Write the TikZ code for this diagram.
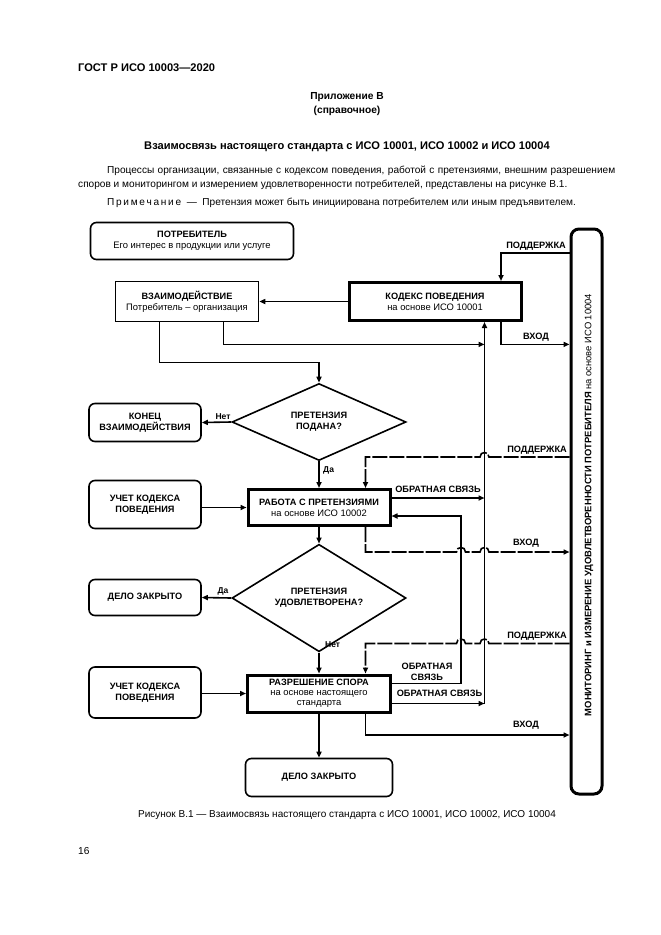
\documentclass[tikz,border=0pt]{standalone}
\usepackage{fontspec}
\setmainfont{Liberation Sans}
\usetikzlibrary{arrows.meta,shapes.geometric}
\newcommand\DgB{\fontsize{9.2}{10.8}\selectfont\bfseries}
\newcommand\DgR{\fontsize{9.4}{10.8}\selectfont\mdseries}
\newcommand\jmpL[2]{-- (#1+4.5,#2) .. controls (#1+4.5,#2-6) and (#1-4.5,#2-6) .. (#1-4.5,#2)}
\newcommand\jmpR[2]{-- (#1-4.5,#2) .. controls (#1-4.5,#2-6) and (#1+4.5,#2-6) .. (#1+4.5,#2)}
\begin{document}
\begin{tikzpicture}[x=1pt,y=-1pt,
  ln/.style={line width=1.6pt},
  dsh/.style={dash pattern=on 15pt off 2pt},
  arr/.style={-{Triangle[length=6pt,width=5pt]}},
  sbox/.style={draw,line width=1.6pt,align=center,inner sep=0pt,font=\DgB},
  rbox/.style={sbox,rounded corners=6pt},
  tbox/.style={draw,line width=3pt,align=center,inner sep=0pt,font=\DgB},
  dia/.style={draw,diamond,line width=1.6pt,align=center,inner sep=0pt,font=\DgB},
  lab/.style={inner sep=0pt,font=\DgB,align=center},
  yn/.style={inner sep=0pt,font=\fontsize{8.5}{9}\selectfont\bfseries},
  txt/.style={inner sep=0pt,font=\fontsize{10.1}{12}\selectfont},
  btxt/.style={inner sep=0pt,font=\fontsize{11.1}{13}\selectfont\bfseries},
]
\useasboundingbox[fill=white] (0,0) rectangle (661,935);

% page text
\node[btxt,anchor=west] (hdr) at (78,68) {ГОСТ Р ИСО 10003—2020};
\node[btxt,font=\fontsize{10.2}{12}\selectfont\bfseries] (app) at (347,97) {Приложение В};
\node[btxt,font=\fontsize{10.2}{12}\selectfont\bfseries] (ref) at (347,111) {(справочное)};
\node[btxt] (ttl) at (347,147) {Взаимосвязь настоящего стандарта с ИСО 10001, ИСО 10002 и ИСО 10004};
\node[txt,anchor=west] (par1) at (107,171) {\makebox[508pt][s]{Процессы организации, связанные с кодексом поведения, работой с претензиями, внешним разрешением}};
\node[txt,anchor=west] (par2) at (78,185) {споров и мониторингом и измерением удовлетворенности потребителей, представлены на рисунке В.1.};
\node[txt,anchor=west] (note) at (107,203) {П\,р\,и\,м\,е\,ч\,а\,н\,и\,е\ \ —\ \ Претензия может быть инициирована потребителем или иным предъявителем.};
\node[txt,font=\fontsize{10}{12}\selectfont] (cap) at (347,815) {Рисунок В.1 — Взаимосвязь настоящего стандарта с ИСО 10001, ИСО 10002, ИСО 10004};
\node[txt,anchor=west] (pg) at (78,851) {16};

% boxes
\node[rbox,minimum width=203pt,minimum height=37pt] (potr) at (192,241) {ПОТРЕБИТЕЛЬ\\{\DgR Его интерес в продукции или услуге}};
\node[sbox,minimum width=143pt,minimum height=40pt] (vzaim) at (187,301.5) {ВЗАИМОДЕЙСТВИЕ\\{\DgR Потребитель – организация}};
\node[tbox,minimum width=172pt,minimum height=38pt] (kodeks) at (435,301.5) {КОДЕКС ПОВЕДЕНИЯ\\{\DgR на основе ИСО 10001}};
\node[dia,minimum width=174pt,minimum height=77pt] (d1) at (319,422) {ПРЕТЕНЗИЯ\\ПОДАНА?};
\node[rbox,minimum width=112pt,minimum height=38pt] (konec) at (145,422.5) {КОНЕЦ\\ВЗАИМОДЕЙСТВИЯ};
\node[tbox,minimum width=142pt,minimum height=36pt] (rabota) at (319,507.5) {РАБОТА С ПРЕТЕНЗИЯМИ\\{\DgR на основе ИСО 10002}};
\node[rbox,minimum width=112pt,minimum height=48pt] (uch1) at (145,504.5) {УЧЕТ КОДЕКСА\\ПОВЕДЕНИЯ};
\node[dia,minimum width=174pt,minimum height=76pt] (d2) at (319,598) {ПРЕТЕНЗИЯ\\УДОВЛЕТВОРЕНА?};
\node[rbox,minimum width=112pt,minimum height=36pt] (delo1) at (145,597.5) {ДЕЛО ЗАКРЫТО};
\node[tbox,minimum width=143pt,minimum height=37pt,font=\fontsize{9.2}{9.9}\selectfont\bfseries] (razr) at (319,693.5) {РАЗРЕШЕНИЕ СПОРА\\{\DgR на основе настоящего}\\{\DgR стандарта}};
\node[rbox,minimum width=112pt,minimum height=51pt] (uch2) at (145,692.5) {УЧЕТ КОДЕКСА\\ПОВЕДЕНИЯ};
\node[rbox,minimum width=147pt,minimum height=38pt] (delo2) at (319,777.5) {ДЕЛО ЗАКРЫТО};
\node[draw,line width=3pt,rounded corners=8pt,minimum width=31pt,minimum height=565pt,inner sep=0pt] (bar) at (586.5,511.5) {};
\node[lab,rotate=90,font=\fontsize{9.4}{10.8}\selectfont\bfseries] (bartxt) at (589,505) {МОНИТОРИНГ и ИЗМЕРЕНИЕ УДОВЛЕТВОРЕННОСТИ ПОТРЕБИТЕЛЯ {\DgR на основе ИСО 10004}};

% helper coordinates
\coordinate (busA) at (484.5,703.5);
\coordinate (busB) at (461,683.5);
\coordinate (j1) at (159.4,362.6);
\coordinate (j2) at (223.6,344.4);
\coordinate (p1) at (501,252.8);
\coordinate (v1) at (501,344.4);
\coordinate (p2) at (365.5,457);
\coordinate (v2) at (365.5,552);
\coordinate (p3) at (365.5,643.5);
\coordinate (v3) at (365.5,735);

% connectors
\draw[ln,arr] (kodeks.west) -- (vzaim.east);
\draw[ln,arr] (vzaim.south -| j1) -- (j1) -| (d1.north);
\draw[ln,arr] (vzaim.south -| j2) |- (busA |- j2);
\draw[ln,arr] (bar.west |- p1) -- (p1) -- (kodeks.north -| p1);
\draw[ln,arr] (kodeks.south -| v1) |- (bar.west |- v1);
\draw[ln,arr] (busA) -- (kodeks.south -| busA);

\draw[ln,arr] (d1.west) -- (konec.east);
\node[yn,anchor=south] (n1) at (223,420) {Нет};
\draw[ln,arr] (d1.south) -- (rabota.north);
\node[yn,anchor=west] (y1) at (323,470) {Да};
\draw[ln,arr] (uch1.east |- rabota.west) -- (rabota.west);

\draw[ln,dsh,arr] (bar.west |- p2) \jmpL{484.5}{457} -- (p2) -- (rabota.north -| p2);
\node[lab,anchor=south east] (lp2) at (567,454.5) {ПОДДЕРЖКА};
\draw[ln,arr] (rabota.east |- 0,498) -- (busA |- 0,498);
\node[lab] (lo1) at (438,489) {ОБРАТНАЯ СВЯЗЬ};
\draw[ln,arr] (razr.east |- busB) -- (busB) |- (rabota.east |- 0,516);
\draw[ln,dsh,arr] (rabota.south -| v2) -- (v2) \jmpR{461}{552} \jmpR{484.5}{552} -- (bar.west |- v2);
\node[lab] (lv2) at (526,543) {ВХОД};

\draw[ln,arr] (rabota.south) -- (d2.north);
\draw[ln,arr] (d2.west) -- (delo1.east);
\node[yn,anchor=south] (y2) at (223,595) {Да};
\draw[ln,arr] (d2.south) -- (razr.north);
\node[yn,anchor=west] (n2) at (325,645) {Нет};
\draw[ln,arr] (uch2.east |- razr.west) -- (razr.west);

\draw[ln,dsh,arr] (bar.west |- p3) \jmpL{484.5}{643.5} \jmpL{461}{643.5} -- (p3) -- (razr.north -| p3);
\node[lab,anchor=south east] (lp3) at (567,641) {ПОДДЕРЖКА};
\node[lab] (lo2) at (427,671.5) {ОБРАТНАЯ\\СВЯЗЬ};
\draw[ln,arr] (razr.east |- busA) -- (busA);
\node[lab] (lo3) at (439.5,693) {ОБРАТНАЯ СВЯЗЬ};
\draw[ln,arr] (razr.south -| v3) |- (bar.west |- v3);
\node[lab] (lv3) at (526,725) {ВХОД};
\draw[ln,arr] (razr.south) -- (delo2.north);

\node[lab,anchor=south east] (lp1) at (566,250.5) {ПОДДЕРЖКА};
\node[lab] (lv1) at (536,337) {ВХОД};
\end{tikzpicture}
\end{document}
